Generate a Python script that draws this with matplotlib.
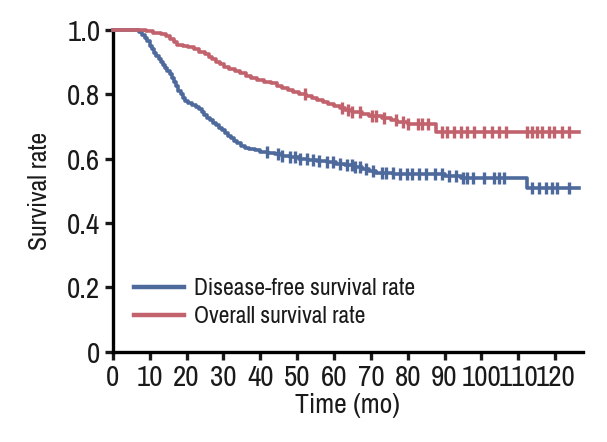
import numpy as np
import matplotlib
matplotlib.use("Agg")
import matplotlib.pyplot as plt
from matplotlib import font_manager as fm

# look for a narrow / condensed face, the reference uses a condensed sans
narrow = [f.name for f in fm.fontManager.ttflist
          if 'Narrow' in f.name or 'Condensed' in f.name]
condensed = [f for f in fm.fontManager.ttflist if f.stretch in ('condensed', 'semi-condensed')]
if narrow:
    plt.rcParams['font.family'] = [narrow[0], 'DejaVu Sans']
    tick_fs, xlab_fs, ylab_fs, leg_fs = 21, 20, 18.5, 17
elif condensed:
    plt.rcParams['font.family'] = [condensed[0].name, 'DejaVu Sans']
    plt.rcParams['font.stretch'] = 'condensed'
    tick_fs, xlab_fs, ylab_fs, leg_fs = 21, 20, 18.5, 17
else:
    plt.rcParams['font.family'] = ['Roboto', 'DejaVu Sans']
    tick_fs, xlab_fs, ylab_fs, leg_fs = 13.5, 16, 16, 13

# Disease-free survival (step curve)
dfs_t = [0, 7, 8, 8.7, 9.3, 10, 10.6, 11.2, 11.8, 12.4, 13, 13.6, 14.2, 14.8, 15.4, 16, 16.6, 17.2,
         17.8, 18.4, 19, 19.7, 20.5, 21.5, 22.5, 23.5, 24.2, 24.8, 25.5, 26.3, 27.1, 27.9, 28.7, 29.5,
         30.3, 31.1, 32, 32.8, 33.7, 34.7, 35.8, 37, 38.5, 40, 42, 44, 46, 48, 50.5, 53, 55.5, 58,
         60.5, 63, 65.5, 67.5, 69.5, 71.5, 76, 90, 94.5, 112.5]
dfs_s = [1.0, 0.995, 0.985, 0.975, 0.965, 0.952, 0.94, 0.93, 0.92, 0.91, 0.90, 0.892, 0.882, 0.872,
         0.862, 0.852, 0.84, 0.826, 0.812, 0.80, 0.788, 0.778, 0.772, 0.767, 0.762, 0.756, 0.745, 0.735,
         0.727, 0.72, 0.712, 0.704, 0.696, 0.688, 0.68, 0.672, 0.664, 0.656, 0.648, 0.641, 0.635, 0.63,
         0.626, 0.622, 0.618, 0.614, 0.609, 0.604, 0.600, 0.597, 0.594, 0.59, 0.585, 0.58, 0.574,
         0.568, 0.562, 0.556, 0.552, 0.547, 0.54, 0.508]
dfs_cens = [41.7, 44.7, 46, 48, 49.3, 50.7, 52.6, 54.2, 56, 58, 59.6, 61.5, 63.4, 65, 65.6, 67, 68.8,
            70.5, 72.9, 74.2, 75.9, 77.8, 79.7, 81.3, 83.2, 85.1, 87.3, 89.4, 91.3, 93.2, 94.9, 96.2,
            97.6, 100.8, 103.5, 104.9, 106.2, 113.6, 115.7, 117.6, 119.2, 120.6, 123.8]

# Overall survival (step curve)
os_t = [0, 9, 11, 13, 14.5, 15.5, 16.5, 17.5, 19, 20.5, 22, 23.5, 25, 26, 27, 28, 29, 30.2, 31.5, 33,
        34.5, 36, 37.5, 39, 41, 43, 44.5, 46, 47.5, 49, 50.5, 52.5, 54, 55.5, 57, 58.5, 60, 61.5, 63,
        65, 67.5, 69.5, 73, 75.5, 77, 80, 87.8]
os_s = [1.0, 0.996, 0.992, 0.987, 0.98, 0.972, 0.963, 0.955, 0.95, 0.946, 0.94, 0.933, 0.925, 0.917,
        0.909, 0.901, 0.893, 0.886, 0.879, 0.872, 0.865, 0.858, 0.851, 0.845, 0.84, 0.834, 0.827, 0.82,
        0.813, 0.806, 0.8, 0.794, 0.788, 0.782, 0.776, 0.77, 0.764, 0.758, 0.752, 0.746, 0.74, 0.734,
        0.728, 0.721, 0.714, 0.708, 0.683]
os_cens = [52, 62.3, 63.7, 65, 67, 70.2, 71.5, 73.7, 76.9, 78.6, 80, 82.7, 84, 85.4, 89.2, 90.8, 92.7,
           94.6, 96.2, 98.1, 100.8, 103, 104.9, 106.8, 112.5, 113.8, 115.2, 116.5, 118.4, 119.8, 122,
           123.8]

t_end = 126.5
blue = '#4e6a9c'
red = '#c1626c'


def level(ts, ss, c):
    idx = np.searchsorted(ts, c, side='right') - 1
    return np.array(ss)[idx]


fig = plt.figure(figsize=(6.07, 4.42), dpi=100)
ax = fig.add_axes([0.186, 0.204, 0.774, 0.728])

for ts, ss, cens, col, lab in [(dfs_t, dfs_s, dfs_cens, blue, 'Disease-free survival rate'),
                               (os_t, os_s, os_cens, red, 'Overall survival rate')]:
    ax.step(ts + [t_end], ss + [ss[-1]], where='post', color=col, lw=2.6, label=lab,
            clip_on=False, zorder=3)
    ax.plot(cens, level(ts, ss, cens), ls='none', marker='|', ms=8, mew=2.4, color=col,
            clip_on=False, zorder=3)

ax.set_xlim(0, 127.5)
ax.set_ylim(0, 1.0)
ax.set_xticks(np.arange(0, 121, 10))
ax.set_yticks([0, 0.2, 0.4, 0.6, 0.8, 1.0])
ax.set_yticklabels(['0', '0.2', '0.4', '0.6', '0.8', '1.0'])
for s in ['top', 'right']:
    ax.spines[s].set_visible(False)
for s in ['left', 'bottom']:
    ax.spines[s].set_linewidth(2.4)
ax.tick_params(width=2.4, length=6, labelsize=tick_fs, pad=3, colors='#1a1a1a')
ax.set_xlabel('Time (mo)', fontsize=xlab_fs, labelpad=1, color='#1a1a1a')
ax.set_ylabel('Survival rate', fontsize=ylab_fs, labelpad=12, color='#1a1a1a')

leg = ax.legend(loc='lower left', bbox_to_anchor=(0.0, 0.01), frameon=False, fontsize=leg_fs,
                handlelength=2.1, handletextpad=0.45, labelspacing=0.3)
for h in leg.get_lines():
    h.set_linewidth(3.2)
for t in leg.get_texts():
    t.set_color('#1a1a1a')

fig.savefig('out.png', dpi=100)
